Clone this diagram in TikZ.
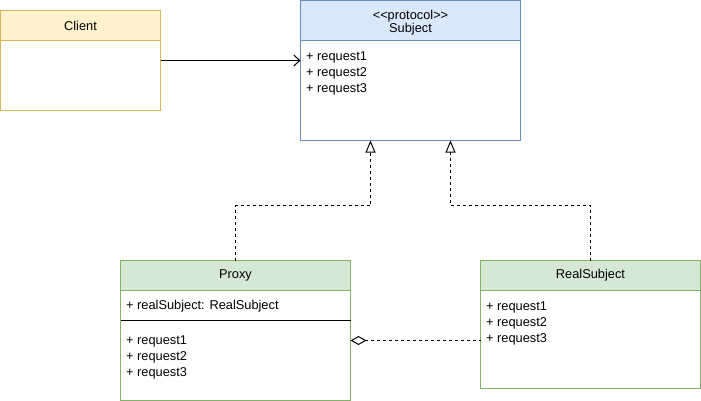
\documentclass[tikz,border=0pt]{standalone}
\usepackage{fontspec}
\newfontfamily\dfont{Liberation Sans}
\usetikzlibrary{arrows.meta}
\definecolor{yfill}{HTML}{FFF2CC}
\definecolor{yline}{HTML}{D6B656}
\definecolor{bfill}{HTML}{DAE8FC}
\definecolor{bline}{HTML}{6C8EBF}
\definecolor{gfill}{HTML}{D5E8D4}
\definecolor{gline}{HTML}{82B366}
\begin{document}
\begin{tikzpicture}[x=1pt,y=-1pt,
  box/.style={draw, line width=1pt, fill=white, inner sep=0pt, outer sep=0pt, anchor=north west},
  head/.style={box, font=\dfont\fontsize{12.8}{14}\selectfont, align=center},
  attr/.style={anchor=west, inner sep=0pt, font=\dfont\fontsize{12.8}{14}\selectfont},
  conn/.style={line width=1pt},
  dashline/.style={line width=1pt, dash pattern=on 3pt off 3pt}
]
\useasboundingbox (0,0) rectangle (701,401);
% Client
\node[box, draw=yline, minimum width=160, minimum height=100] (Client) at (0.5,10.5) {};
\node[head, draw=yline, fill=yfill, minimum width=160, minimum height=30] (ClientHead) at (Client.north west) {Client};
% Subject
\node[box, draw=bline, minimum width=220, minimum height=140] (Subject) at (300.5,0.5) {};
\node[head, draw=bline, fill=bfill, minimum width=220, minimum height=40] (SubjectHead) at (Subject.north west) {};
\node[attr, anchor=center, align=center] (SubjectTitle) at ([yshift=-2.5pt]SubjectHead.center) {<\kern0pt<protocol>\kern0pt>\\[-1pt]Subject};
\node[attr] (s1) at (306,57) {+ request1};
\node[attr] (s2) at (306,73) {+ request2};
\node[attr] (s3) at (306,89) {+ request3};
% Proxy
\node[box, draw=gline, minimum width=230, minimum height=140] (Proxy) at (120.5,260.5) {};
\node[head, draw=gline, fill=gfill, minimum width=230, minimum height=30] (ProxyHead) at (Proxy.north west) {Proxy};
\node[attr] (p0) at (126,306) {+ realSubject: RealSubject};
\coordinate (sepL) at (120.5,320.5);
\coordinate (sepR) at (350.5,320.5);
\draw[line width=1pt] (sepL) -- (sepR);
\node[attr] (p1) at (126,341) {+ request1};
\node[attr] (p2) at (126,357) {+ request2};
\node[attr] (p3) at (126,373) {+ request3};
% RealSubject
\node[box, draw=gline, minimum width=220, minimum height=128] (Real) at (480.5,260.5) {};
\node[head, draw=gline, fill=gfill, minimum width=220, minimum height=30] (RealHead) at (Real.north west) {RealSubject};
\node[attr] (r1) at (486,307) {+ request1};
\node[attr] (r2) at (486,323) {+ request2};
\node[attr] (r3) at (486,339) {+ request3};
% Association
\draw[conn, -{Straight Barb[length=6pt,width=11pt,line width=1pt]}] (Client.east) -- (Client.east -| Subject.west);
% Realizations
\coordinate (sL) at (370.5,140.5);
\coordinate (sR) at (450.5,140.5);
\coordinate (midY) at (0,205.5);
\draw[dashline, -{Triangle[open,length=12pt,width=10pt,line width=1pt]}] (ProxyHead.north) |- (midY -| sL) -- (sL);
\draw[dashline, -{Triangle[open,length=12pt,width=10pt,line width=1pt]}] (RealHead.north) |- (midY -| sR) -- (sR);
% Aggregation
\coordinate (aggP) at (350.5,340.5);
\coordinate (aggR) at (480.5,340.5);
\draw[dashline, {Diamond[open,length=16pt,width=9pt,line width=1pt]}-] (aggP) -- (aggR);
\end{tikzpicture}
\end{document}
